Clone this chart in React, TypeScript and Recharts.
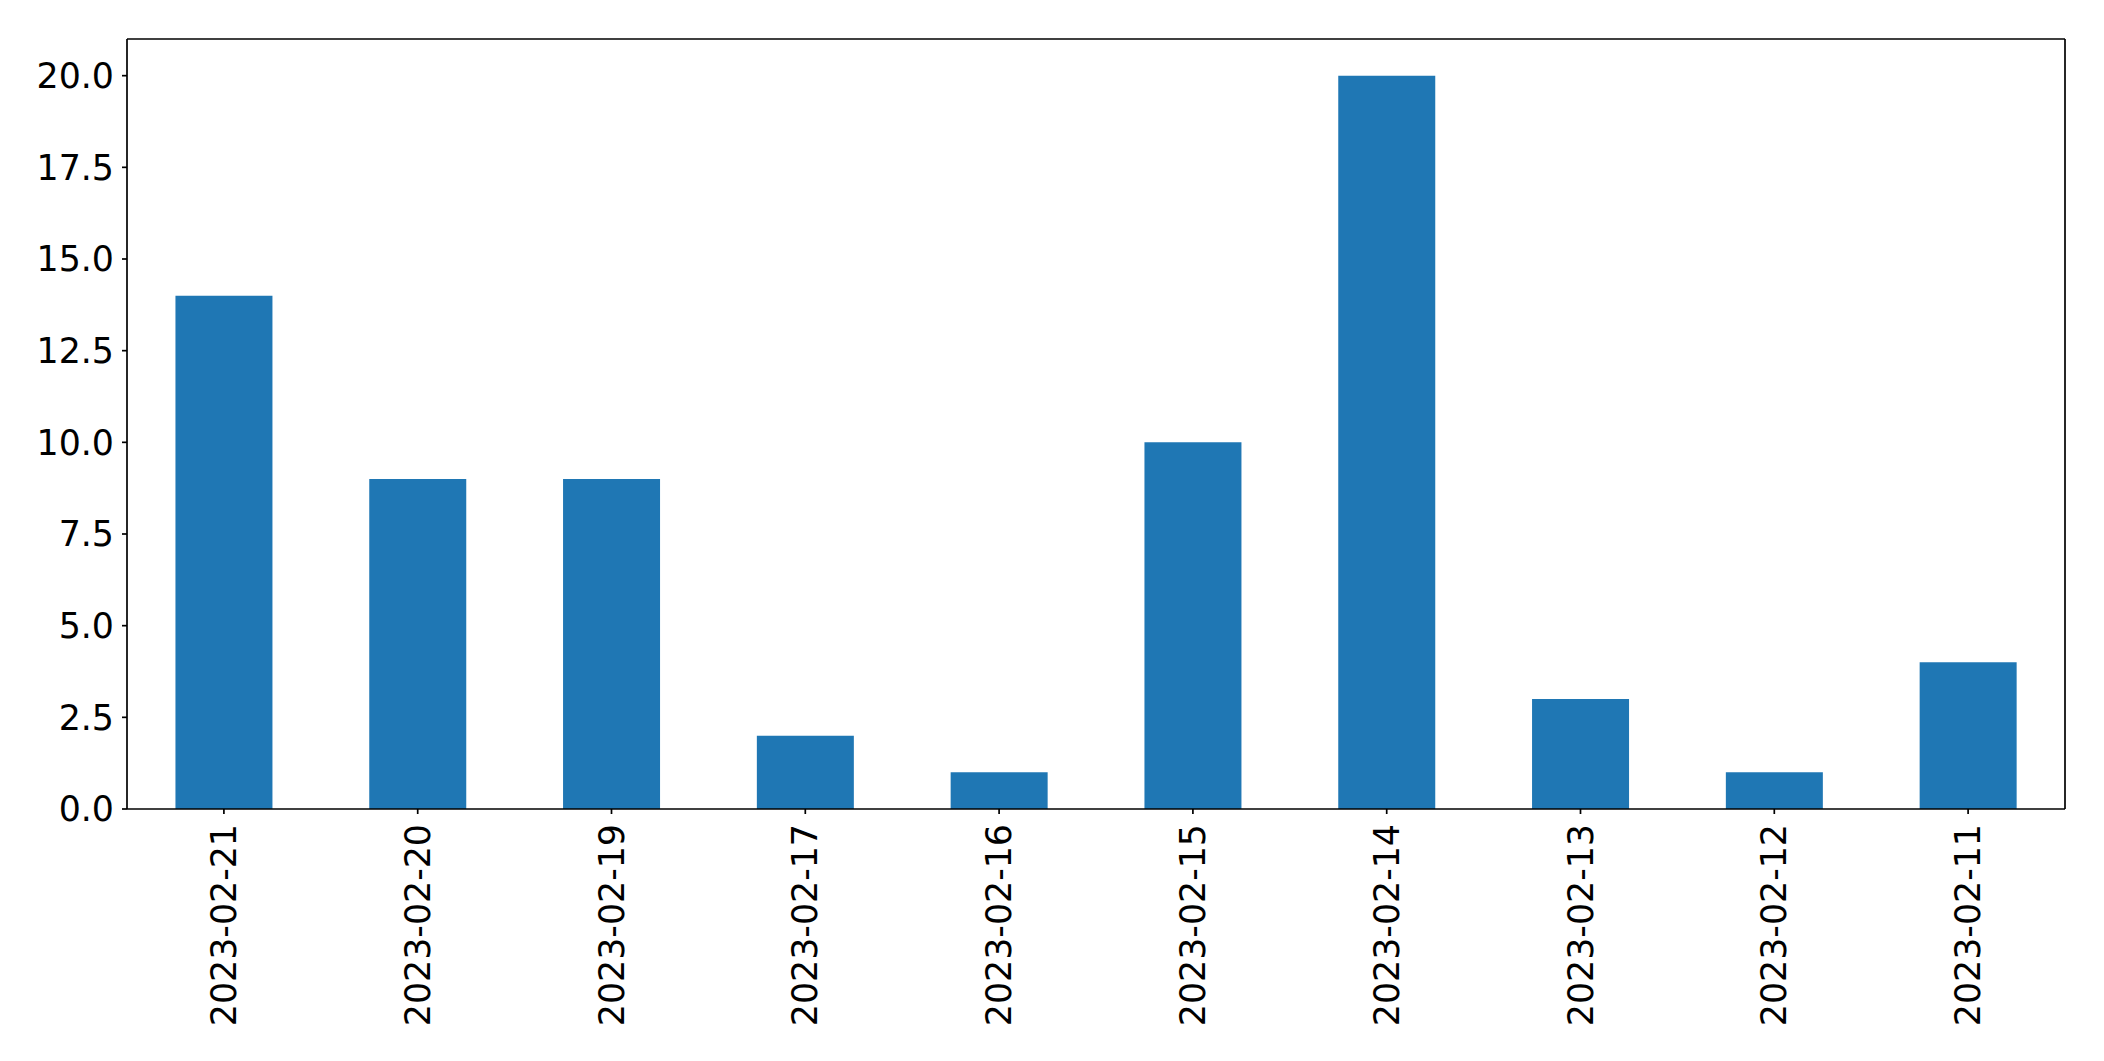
import { BarChart, Bar, XAxis, YAxis, ReferenceLine } from 'recharts'

const dates = [
  '2023-02-21',
  '2023-02-20',
  '2023-02-19',
  '2023-02-17',
  '2023-02-16',
  '2023-02-15',
  '2023-02-14',
  '2023-02-13',
  '2023-02-12',
  '2023-02-11'
]

const counts = [14, 9, 9, 2, 1, 10, 20, 3, 1, 4]

const yTicks = [0, 2.5, 5, 7.5, 10, 12.5, 15, 17.5, 20]

const data = dates.map((date, i) => ({ date, count: counts[i] }))

const FONT = '"DejaVu Sans", sans-serif'
const FONT_SIZE = 34.8
const AXIS = { stroke: '#000', strokeWidth: 1.7 }

function DateTick(props: any) {
  const { x, y, payload } = props
  return (
    <g transform={`translate(${x},${y})`}>
      <text
        transform="rotate(-90)"
        textAnchor="end"
        dominantBaseline="central"
        fontSize={FONT_SIZE}
        fontFamily={FONT}
        fill="#000"
      >
        {payload.value}
      </text>
    </g>
  )
}

export default function App() {
  return (
    <div style={{ position: 'absolute', left: 0, top: 0, width: 2104, height: 1061, background: '#fff' }}>
      <BarChart
        width={2104}
        height={1061}
        data={data}
        margin={{ top: 39, right: 39, left: 0, bottom: 0 }}
        barCategoryGap="25%"
      >
        <XAxis
          dataKey="date"
          height={252}
          axisLine={AXIS}
          tickLine={AXIS}
          tickSize={5}
          tickMargin={10}
          tick={<DateTick />}
          interval={0}
        />
        <YAxis
          domain={[0, 21]}
          ticks={yTicks}
          width={127}
          axisLine={AXIS}
          tickLine={AXIS}
          tickSize={5}
          tickMargin={8}
          tickFormatter={(v: number) => v.toFixed(1)}
          tick={{ fontSize: FONT_SIZE, fontFamily: FONT, fill: '#000' }}
        />
        <Bar dataKey="count" fill="#1f77b4" isAnimationActive={false} />
        {/* top and right spines of the frame */}
        <ReferenceLine y={21} stroke="#000" strokeWidth={1.7} />
        <ReferenceLine x={dates[dates.length - 1]} position="end" stroke="#000" strokeWidth={1.7} />
      </BarChart>
    </div>
  )
}
